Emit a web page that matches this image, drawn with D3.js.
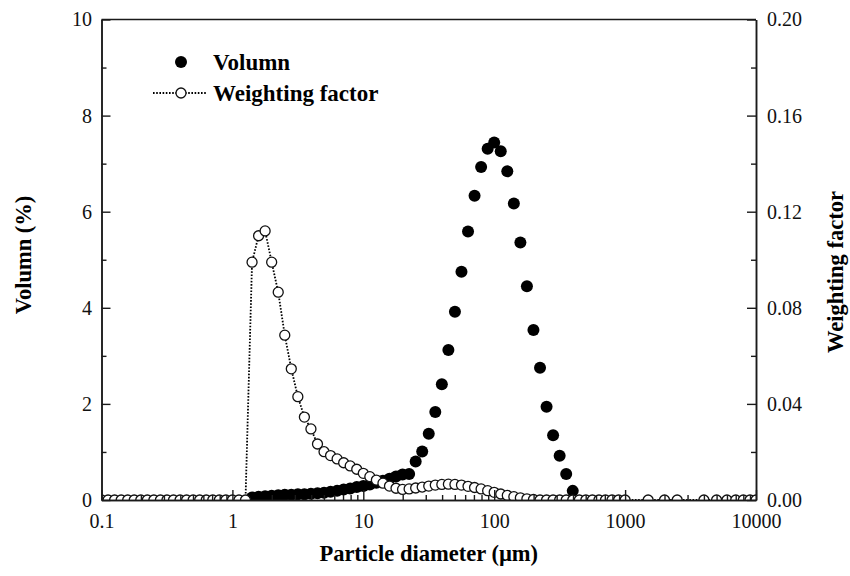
<!DOCTYPE html>
<html>
<head>
<meta charset="utf-8">
<script src="https://cdn.jsdelivr.net/npm/d3@7"></script>
<style>
  html, body { margin: 0; padding: 0; background: #fff; }
  svg { display: block; font-family: "Liberation Serif", "Times New Roman", serif; }
</style>
</head>
<body>
<svg id="chart" width="850" height="576"></svg>
<script>
// Volume distribution (filled markers, left axis)
const volumeDiameter = [1.413, 1.585, 1.778, 1.995, 2.239, 2.512, 2.818, 3.162, 3.548, 3.981,
  4.467, 5.012, 5.623, 6.31, 7.079, 7.943, 8.913, 10, 11.22, 12.59, 14.13, 15.85, 17.78, 19.95,
  22.39, 25.12, 28.18, 31.62, 35.48, 39.81, 44.67, 50.12, 56.23, 63.1, 70.79, 79.43, 89.13, 100,
  112.2, 125.9, 141.3, 158.5, 177.8, 199.5, 223.9, 251.2, 281.8, 316.2, 354.8, 398.1];
const volumePercent = [0.05, 0.07, 0.08, 0.09, 0.10, 0.11, 0.11, 0.12, 0.12, 0.13,
  0.14, 0.15, 0.17, 0.19, 0.22, 0.24, 0.27, 0.29, 0.32, 0.36, 0.40, 0.44, 0.49, 0.53,
  0.54, 0.80, 1.01, 1.38, 1.83, 2.41, 3.12, 3.92, 4.75, 5.59, 6.33, 6.93, 7.31, 7.44,
  7.26, 6.84, 6.17, 5.36, 4.45, 3.54, 2.75, 1.94, 1.35, 0.92, 0.54, 0.19];

// Weighting factor (open markers with dotted line, right axis)
const weightDiameter = [0.1, 0.1122, 0.1259, 0.1413, 0.1585, 0.1778, 0.1995, 0.2239, 0.2512, 0.2818,
  0.3162, 0.3548, 0.3981, 0.4467, 0.5012, 0.5623, 0.631, 0.7079, 0.7943, 0.8913,
  1, 1.122, 1.259, 1.413, 1.585, 1.778, 1.995, 2.239, 2.512, 2.818,
  3.162, 3.548, 3.981, 4.467, 5.012, 5.623, 6.31, 7.079, 7.943, 8.913,
  10, 11.22, 12.59, 14.13, 15.85, 17.78, 19.95, 22.39, 25.12, 28.18,
  31.62, 35.48, 39.81, 44.67, 50.12, 56.23, 63.1, 70.79, 79.43, 89.13,
  100, 112.2, 125.9, 141.3, 158.5, 177.8, 199.5, 223.9, 251.2, 281.8,
  316.2, 354.8, 398.1, 446.7, 501.2, 562.3, 631, 707.9, 794.3, 891.3,
  1000, 1500, 2000, 2500, 4000, 5000, 6000, 7000, 8000, 9000, 10000];
const weightFactor = [0, 0, 0, 0, 0, 0, 0, 0, 0, 0,
  0, 0, 0, 0, 0, 0, 0, 0, 0, 0,
  0, 0, 0, 0.099, 0.110, 0.112, 0.099, 0.0865, 0.0686, 0.0546,
  0.043, 0.0345, 0.0296, 0.0233, 0.0201, 0.0185, 0.0171, 0.0155, 0.0142, 0.0128,
  0.0111, 0.0097, 0.0083, 0.0070, 0.0058, 0.0049, 0.0044, 0.0046, 0.0050, 0.0054,
  0.0058, 0.0062, 0.0065, 0.0066, 0.0065, 0.0062, 0.0057, 0.0052, 0.0046, 0.0039,
  0.0032, 0.0025, 0.0019, 0.0014, 0.0009, 0.0005, 0.0002, 0, 0, 0,
  0, 0, 0, 0, 0, 0, 0, 0, 0, 0,
  0, 0, 0, 0, 0, 0, 0, 0, 0, 0, 0];

// Axis ticks
const xMajorTicks = [0.1, 1, 10, 100, 1000, 10000];
const xTickLabels = ["0.1", "1", "10", "100", "1000", "10000"];
const yLeftMajor = [0, 2, 4, 6, 8, 10];
const yLeftMinor = [1, 3, 5, 7, 9];
const yRightMajor = [0, 0.04, 0.08, 0.12, 0.16, 0.20];
const yRightMinor = [0.02, 0.06, 0.10, 0.14, 0.18];

const legendLabels = ["Volumn", "Weighting factor"];
const xTitle = "Particle diameter (\u00b5m)";
const yLeftTitle = "Volumn (%)";
const yRightTitle = "Weighting factor";

const L = 101.5, R = 756, T = 19.5, B = 500;
const ink = "#1a1a1a";

const svg = d3.select("#chart");

const x = d3.scaleLog().domain([0.1, 10000]).range([L, R]);
const yL = d3.scaleLinear().domain([0, 10]).range([B, T]);
const yR = d3.scaleLinear().domain([0, 0.20]).range([B, T]);

// minor log ticks: 2..9 within each decade
const xMinorTicks = [];
for (let d = 0.1; d < 10000; d *= 10) {
  for (let k = 2; k <= 9; k++) xMinorTicks.push(+(d * k).toPrecision(3));
}

svg.append("defs").append("clipPath").attr("id", "plot-clip")
  .append("rect").attr("x", L).attr("y", T).attr("width", R - L).attr("height", B - T);

const plot = svg.append("g").attr("clip-path", "url(#plot-clip)");

// Volume markers
plot.append("g").selectAll("circle")
  .data(volumeDiameter.map((d, i) => [d, volumePercent[i]]))
  .join("circle")
  .attr("cx", d => x(d[0]))
  .attr("cy", d => yL(d[1]))
  .attr("r", 6)
  .attr("fill", "#000");

// Weighting factor: dotted line then open markers
const wData = weightDiameter.map((d, i) => [d, weightFactor[i]]);
plot.append("path")
  .datum(wData)
  .attr("fill", "none")
  .attr("stroke", "#000")
  .attr("stroke-width", 1.8)
  .attr("stroke-dasharray", "1.6,1.6")
  .attr("d", d3.line().x(d => x(d[0])).y(d => yR(d[1])));

plot.append("g").selectAll("circle")
  .data(wData)
  .join("circle")
  .attr("cx", d => x(d[0]))
  .attr("cy", d => yR(d[1]))
  .attr("r", 5)
  .attr("fill", "#fff")
  .attr("stroke", "#111")
  .attr("stroke-width", 1.3);

// Axes
function styleAxis(g) {
  g.selectAll(".domain").attr("stroke", ink).attr("stroke-width", 1.5);
  g.selectAll(".tick line").attr("stroke", ink).attr("stroke-width", 1.4);
  g.selectAll(".tick text").attr("fill", "#111").attr("font-size", 20)
    .attr("font-family", "Liberation Serif, Times New Roman, serif");
}

// bottom
svg.append("g").attr("transform", `translate(0,${B})`)
  .call(d3.axisBottom(x).tickValues(xMinorTicks).tickFormat("").tickSizeInner(-5).tickSizeOuter(0))
  .call(styleAxis);
svg.append("g").attr("transform", `translate(0,${B})`)
  .call(d3.axisBottom(x).tickValues(xMajorTicks)
    .tickFormat((d, i) => xTickLabels[i]).tickSizeInner(-10).tickSizeOuter(0).tickPadding(14))
  .call(styleAxis);

// left
svg.append("g").attr("transform", `translate(${L},0)`)
  .call(d3.axisLeft(yL).tickValues(yLeftMinor).tickFormat("").tickSizeInner(-5).tickSizeOuter(0))
  .call(styleAxis);
svg.append("g").attr("transform", `translate(${L},0)`)
  .call(d3.axisLeft(yL).tickValues(yLeftMajor).tickFormat(d3.format("d"))
    .tickSizeInner(-9).tickSizeOuter(0).tickPadding(9.5))
  .call(styleAxis);

// right
svg.append("g").attr("transform", `translate(${R},0)`)
  .call(d3.axisRight(yR).tickValues(yRightMinor).tickFormat("").tickSizeInner(-5).tickSizeOuter(0))
  .call(styleAxis);
svg.append("g").attr("transform", `translate(${R},0)`)
  .call(d3.axisRight(yR).tickValues(yRightMajor).tickFormat(d3.format(".2f"))
    .tickSizeInner(-9).tickSizeOuter(0).tickPadding(11))
  .call(styleAxis);

// top frame
svg.append("line").attr("x1", L).attr("x2", R).attr("y1", T).attr("y2", T)
  .attr("stroke", ink).attr("stroke-width", 1.5);

// Axis titles
svg.append("text").attr("x", (L + R) / 2 + 0).attr("y", 561)
  .attr("text-anchor", "middle").attr("font-size", 22.5).attr("font-weight", "bold")
  .text(xTitle);
svg.append("text").attr("transform", "translate(31,255) rotate(-90)")
  .attr("text-anchor", "middle").attr("font-size", 22.5).attr("font-weight", "bold")
  .text(yLeftTitle);
svg.append("text").attr("transform", "translate(843,272) rotate(-90)")
  .attr("text-anchor", "middle").attr("font-size", 22.5).attr("font-weight", "bold")
  .text(yRightTitle);

// Legend
const lg = svg.append("g");
lg.append("circle").attr("cx", 181).attr("cy", 62).attr("r", 6).attr("fill", "#000");
lg.append("text").attr("x", 213).attr("y", 70).attr("font-size", 23).attr("font-weight", "bold")
  .text(legendLabels[0]);
lg.append("line").attr("x1", 153).attr("x2", 207).attr("y1", 93).attr("y2", 93)
  .attr("stroke", "#000").attr("stroke-width", 1.8).attr("stroke-dasharray", "1.6,1.6");
lg.append("circle").attr("cx", 181).attr("cy", 93).attr("r", 5)
  .attr("fill", "#fff").attr("stroke", "#111").attr("stroke-width", 1.3);
lg.append("text").attr("x", 213).attr("y", 101).attr("font-size", 23).attr("font-weight", "bold")
  .text(legendLabels[1]);
</script>
</body>
</html>
